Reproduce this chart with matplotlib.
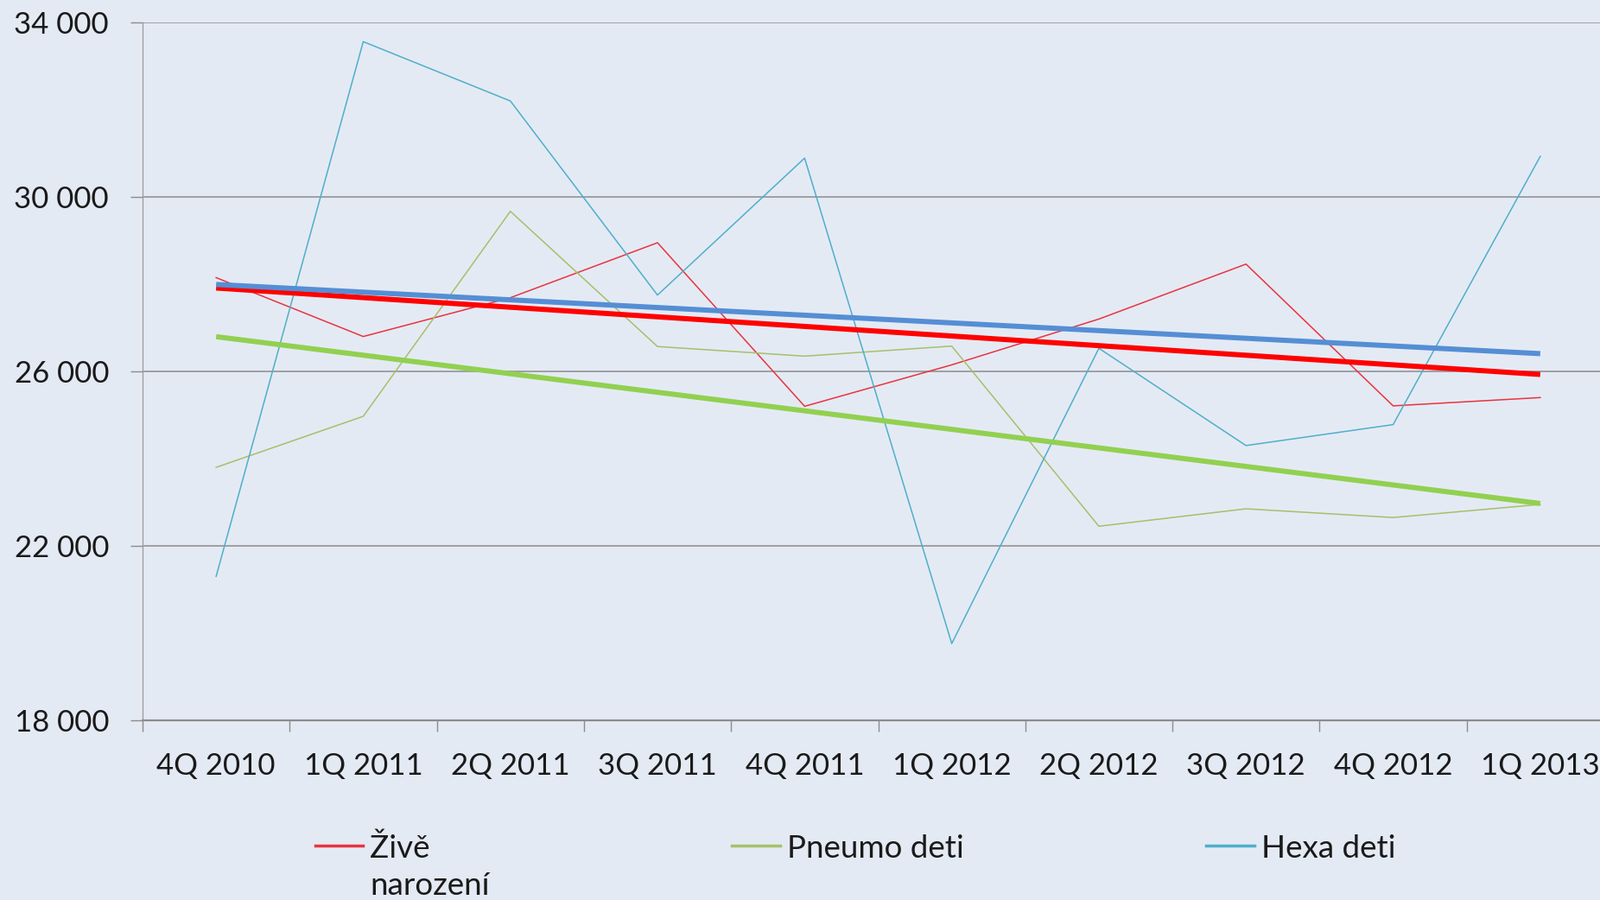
import matplotlib
matplotlib.use("Agg")
import matplotlib.pyplot as plt
from matplotlib.ticker import FuncFormatter
import numpy as np

quarters = ["4Q 2010", "1Q 2011", "2Q 2011", "3Q 2011", "4Q 2011",
            "1Q 2012", "2Q 2012", "3Q 2012", "4Q 2012", "1Q 2013"]
zive_narozeni = [28150, 26800, 27690, 28950, 25200, 26150, 27200, 28460, 25210, 25400]
pneumo_deti = [23800, 24970, 29670, 26570, 26350, 26580, 22450, 22850, 22650, 22950]
hexa_deti = [21300, 33560, 32200, 27750, 30890, 19760, 26530, 24300, 24780, 30930]

series_colors = ["#E8343F", "#A6C06A", "#4FAFCB"]
trend_colors = ["#FF0000", "#92D050", "#558ED5"]
labels = ["Živě\nnarození", "Pneumo deti", "Hexa deti"]

plt.rcParams["font.family"] = ["Lato", "DejaVu Sans"]

fig = plt.figure(figsize=(18.52, 10.42), dpi=100)
fig.patch.set_facecolor("#E4EAF4")
ax = fig.add_axes([165 / 1852, 1 - 834 / 1042, (1868 - 165) / 1852, (834 - 26) / 1042])
ax.set_facecolor("#E4EAF4")

x = np.arange(len(quarters))
handles = []
for data, col, tcol, lab in zip([zive_narozeni, pneumo_deti, hexa_deti],
                                series_colors, trend_colors, labels):
    h, = ax.plot(x, data, color=col, lw=1.1, label=lab, zorder=3)
    handles.append(h)
    # linear trend, as in the original chart
    k, b = np.polyfit(x, data, 1)
    ax.plot(x, k * x + b, color=tcol, lw=4.3, solid_capstyle="butt", zorder=4)

ax.set_xlim(-0.5, len(quarters) - 0.5)
ax.set_ylim(18000, 34000)
ax.set_yticks(np.arange(18000, 34001, 4000))
ax.yaxis.set_major_formatter(FuncFormatter(lambda v, p: f"{v:,.0f}".replace(",", " ")))
ax.set_xticks(x)
ax.set_xticklabels(quarters)
ax.set_xticks(np.arange(-0.5, len(quarters), 1.0), minor=True)
ax.tick_params(axis="x", which="major", length=0, pad=26.5, labelsize=25, colors="#1a1a1a")
ax.tick_params(axis="x", which="minor", length=9.5, width=1, color="#8c8c8c")
ax.tick_params(axis="y", length=10, width=1, color="#8c8c8c", pad=18,
               labelsize=25, labelcolor="#1a1a1a")

ax.grid(axis="y", color="#8c8c8c", lw=1.1)
ax.set_axisbelow(True)
for s in ["top", "right"]:
    ax.spines[s].set_visible(False)
ax.spines["left"].set_color("#9a9a9a")
ax.spines["left"].set_linewidth(0.9)
ax.spines["bottom"].set_color("#8c8c8c")
ax.spines["bottom"].set_linewidth(1.6)

fs = 26.5
leg = fig.legend(handles=handles, loc="upper left", bbox_to_anchor=(350 / 1852, 1 - 951 / 1042),
                 ncol=3, frameon=False, fontsize=fs, handlelength=40 / fs, handletextpad=0.22,
                 columnspacing=202 / fs, borderaxespad=0)
for t in leg.get_texts():
    t.set_color("#1a1a1a")
    t.set_linespacing(1.38)
for lh in leg.get_lines():
    lh.set_linewidth(2.5)
# keep handles and single-line labels level with the first line of "Živě"
box = leg._legend_handle_box
box.align = "top"
for column in box.get_children():
    column.align = "left"
    for item in column.get_children():
        item.align = "top"

fig.savefig("out.png", dpi=100, facecolor=fig.get_facecolor())
